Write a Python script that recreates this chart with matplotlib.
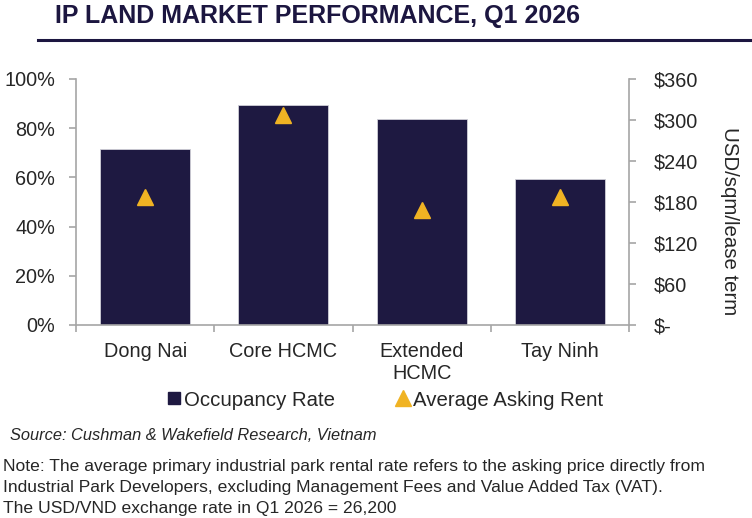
import matplotlib
matplotlib.use("Agg")
import matplotlib.pyplot as plt
from matplotlib.lines import Line2D
import numpy as np

categories = ["Dong Nai", "Core HCMC", "Extended\nHCMC", "Tay Ninh"]
occupancy = [71.7, 89.6, 83.9, 59.2]
rent = [188, 307, 168, 188]
left_ticks = [0, 20, 40, 60, 80, 100]
right_ticks = [0, 60, 120, 180, 240, 300, 360]
right_labels = ["$-", "$60", "$120", "$180", "$240", "$300", "$360"]

NAVY = "#1E1941"
GOLD = "#F0B323"
GRAY = "#A6A6A6"
TXT = "#262626"
FS = 14.3

plt.rcParams['font.family'] = ['Liberation Sans', 'DejaVu Sans']

fig = plt.figure(figsize=(7.52, 5.18), dpi=100)
ax = fig.add_axes([76/752, 1-325/518, (629-76)/752, (325-79)/518])
ax2 = ax.twinx()

x = np.arange(len(categories))
ax.bar(x, occupancy, width=0.65, color=NAVY, edgecolor="#D0D0D8", linewidth=0.6, zorder=2)
ax2.plot(x, rent, linestyle="none", marker="^", markersize=12, color=GOLD, zorder=3)

ax.set_xlim(-0.5, len(categories)-0.5)
ax.set_ylim(0, 100)
ax2.set_ylim(0, 360)
ax.set_yticks(left_ticks)
ax.set_yticklabels([f"{v}%" for v in left_ticks])
ax2.set_yticks(right_ticks)
ax2.set_yticklabels(right_labels)

ax.set_xticks(x)
ax.set_xticklabels(categories, linespacing=1.22)
ax.set_xticks(np.arange(-0.5, len(categories)), minor=True)
ax.tick_params(axis='x', which='major', length=0, pad=12, labelsize=FS, labelcolor=TXT)
ax.tick_params(axis='x', which='minor', length=5, color=GRAY, width=1.2)
ax.tick_params(axis='y', length=5, color=GRAY, width=1.2, labelsize=FS, labelcolor=TXT, pad=10)
ax2.tick_params(axis='y', length=5, color=GRAY, width=1.2, labelsize=FS, labelcolor=TXT, pad=13)

for a in (ax, ax2):
    a.spines["top"].set_visible(False)
    for s in ("left", "right", "bottom"):
        a.spines[s].set_color(GRAY)
        a.spines[s].set_linewidth(1.2)
ax.spines["right"].set_visible(False)
ax2.spines["left"].set_visible(False)
ax2.spines["bottom"].set_visible(False)

ax2.set_ylabel("USD/sqm/lease term", rotation=-90, fontsize=14.7, color=TXT, va='center')
ax2.yaxis.set_label_coords((729-76)/553, (325-221)/246)

# Title
fig.text(55/752, 1-16/518, "IP LAND MARKET PERFORMANCE, Q1 2026",
         family=['Liberation Sans Narrow', 'Liberation Sans', 'DejaVu Sans'],
         fontsize=18, fontweight='bold', color="#1C1640", va='center', ha='left')
fig.add_artist(Line2D([38/752, 1.0], [1-40/518, 1-40/518], color="#1C1640", linewidth=2.2))

# Legend
handles = [Line2D([], [], linestyle='none', marker='s', markersize=8, color=NAVY),
           Line2D([], [], linestyle='none', marker='^', markersize=11, color=GOLD)]
fig.legend(handles, ["Occupancy Rate", "Average Asking Rent"], loc='center',
           bbox_to_anchor=(385/752, 1-400/518), ncol=2, frameon=False, fontsize=14.7,
           handlelength=0.7, handletextpad=0.15, columnspacing=3.0, labelcolor=TXT)

fig.text(10/752, 1-435/518, "Source: Cushman & Wakefield Research, Vietnam",
         fontsize=11.8, style='italic', color=TXT, va='center', ha='left')
notes = ["Note: The average primary industrial park rental rate refers to the asking price directly from",
         "Industrial Park Developers, excluding Management Fees and Value Added Tax (VAT).",
         "The USD/VND exchange rate in Q1 2026 = 26,200"]
for i, line in enumerate(notes):
    fig.text(3/752, 1-(467+20.5*i)/518, line, fontsize=12.6, color=TXT, va='center', ha='left')

fig.savefig("out.png", dpi=100)
